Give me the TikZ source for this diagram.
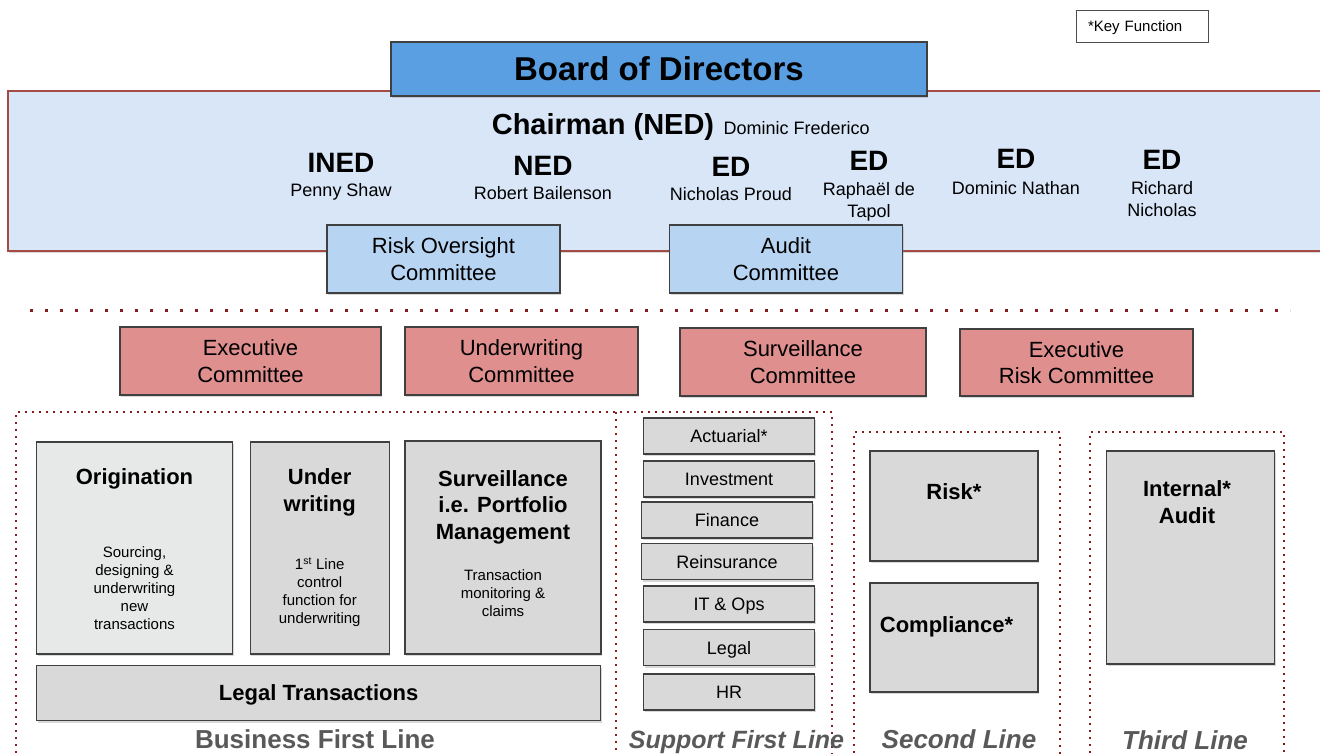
\documentclass[tikz,border=0pt]{standalone}
\usepackage{fontspec}
\setmainfont{Liberation Sans}
\usetikzlibrary{positioning,shadows}

\definecolor{boardblue}{RGB}{91,159,227}
\definecolor{roomblue}{RGB}{216,230,248}
\definecolor{cttblue}{RGB}{183,213,243}
\definecolor{cttred}{RGB}{224,143,143}
\definecolor{dotred}{RGB}{135,30,30}
\definecolor{edgered}{RGB}{165,75,70}
\definecolor{unitgray}{RGB}{217,217,217}
\definecolor{palegray}{RGB}{231,232,232}
\definecolor{labelgray}{RGB}{89,89,89}

\newcommand{\fsz}[2]{\fontsize{#1}{#2}\selectfont}

\tikzset{boxshadow/.style={drop shadow={shadow xshift=1pt,shadow yshift=-2pt,opacity=.3}},
         unit/.style={draw=black!75,line width=1.2pt,fill=unitgray,boxshadow,inner sep=0pt},
         committee/.style={unit,fill=cttred,minimum width=233pt,minimum height=68pt,align=center,font=\fsz{22}{26.5}},
         dept/.style={unit,minimum width=171pt,minimum height=36pt,text depth=0pt,font=\fsz{18}{22}},
         role/.style={inner sep=0pt,font=\bfseries\fsz{28}{34}},
         person/.style={inner sep=0pt,align=center,font=\fsz{18}{22}},
         head/.style={inner sep=0pt,align=center,font=\bfseries\fsz{22}{26.5}},
         note/.style={inner sep=0pt,align=center,font=\fsz{15}{18}},
         linelabel/.style={inner sep=0pt,text=labelgray,font=\bfseries\itshape\fsz{26}{30}},
         lineframe/.style={dotred,line width=2pt,dash pattern=on 2pt off 5pt}}

\begin{document}
\begin{tikzpicture}[x=1pt,y=-1pt]
   \useasboundingbox[fill=white] (0,0) rectangle (1320,753);
   \node[draw=black!70,line width=1pt,minimum width=132pt,minimum height=32pt,text width=108pt,text depth=0pt,align=left,font=\fsz{15}{18}] (key) at (1142,26) {*Key Function};
   \node[unit,draw=edgered,fill=roomblue,minimum width=1322pt,minimum height=160pt] (room) at (669,171) {};
   \node[unit,fill=boardblue,minimum width=536pt,minimum height=54pt,font=\bfseries\fsz{33}{40}] (board) at (659,69) {Board of Directors};
   \node[role,anchor=base,font=\bfseries\fsz{29}{34}] (chair) at (603,134) {Chairman (NED)};
   \node[person,anchor=base west] (chairname) at ([xshift=9pt]chair.base east) {Dominic Frederico};
   \node[role,anchor=base] (ined) at (341,172) {INED};
   \node[person,below=11pt of ined] (inedname) {Penny Shaw};
   \node[role,anchor=base] (ned) at (543,175) {NED};
   \node[person,below=11pt of ned] (nedname) {Robert Bailenson};
   \node[role,anchor=base] (edproud) at (731,176) {ED};
   \node[person,below=11pt of edproud] (proudname) {Nicholas Proud};
   \node[role,anchor=base] (edtapol) at (869,170) {ED};
   \node[person,below=12pt of edtapol] (tapolname) {Raphaël de\\Tapol};
   \node[role,anchor=base] (ednathan) at (1016,168) {ED};
   \node[person,below=13pt of ednathan] (nathanname) {Dominic Nathan};
   \node[role,anchor=base] (ednicholas) at (1162,169) {ED};
   \node[person,below=12pt of ednicholas] (nicholasname) {Richard\\Nicholas};
   \node[committee,fill=cttblue] (riskoversight) at (443.5,259) {Risk Oversight\\Committee};
   \node[committee,fill=cttblue] (audit) at (786,259) {Audit\\Committee};

   \draw[dotred,line width=3pt,dash pattern=on 3pt off 12pt] (30,310) -- (1290,310);
   \node[committee,minimum width=261pt] (exec) at (250.5,361) {Executive\\Committee};
   \node[committee] (uw) at (521.5,361) {Underwriting\\Committee};
   \node[committee,minimum width=246pt] (surv) at (803,362) {Surveillance\\Committee};
   \node[committee,minimum height=67pt] (execrisk) at (1076.5,362.5) {Executive\\Risk Committee};

   \draw[lineframe] (16,760) |- (832,412) -- (832,760);
   \draw[lineframe] (616,412) -- (616,760);
   \draw[lineframe] (854,760) |- (1060,432) -- (1060,760);
   \draw[lineframe] (1090,760) |- (1284,432) -- (1284,760);

   \node[unit,fill=palegray,minimum width=196pt,minimum height=212pt] (orig) at (134.5,548) {};
   \node[head,anchor=base] (origtitle) at (134.5,484) {Origination};
   \node[note] (origtext) at (134.5,588) {Sourcing,\\designing \&\\underwriting\\new\\transactions};
   \node[unit,minimum width=139pt,minimum height=212pt] (uwunit) at (319.7,548) {};
   \node[head] (uwtitle) at (319.7,492.6) {Under\\writing};
   \node[note] (uwtext) at (319.7,592.5) {1\textsuperscript{st} Line\\control\\function for\\underwriting};
   \node[unit,minimum width=196pt,minimum height=213pt] (survunit) at (503,547.5) {};
   \node[head] (survtitle) at (503,507) {Surveillance\\i.e. Portfolio\\Management};
   \node[note] (survtext) at (503,593) {Transaction\\monitoring \&\\claims};
   \node[unit,minimum width=564pt,minimum height=55pt,text depth=0pt,font=\bfseries\fsz{22}{27}] (legaltx) at (318.6,693) {Legal Transactions};
   \node[linelabel,font=\bfseries\fsz{26}{30},anchor=base] (bizline) at (315,748) {Business First Line};

   \node[dept] (actuarial) at (729,436) {Actuarial*};
   \node[dept] (investment) at (729,479) {Investment};
   \node[dept] (finance) at (727,520) {Finance};
   \node[dept] (reins) at (727,561.5) {Reinsurance};
   \node[dept] (itops) at (729,604) {IT \& Ops};
   \node[dept] (legal) at (729,647.5) {Legal};
   \node[dept] (hr) at (729,692) {HR};
   \node[linelabel,font=\bfseries\itshape\fsz{25}{30},anchor=base] (supportline) at (736.5,748) {Support First Line};

   \node[unit,minimum width=168pt,minimum height=110pt] (risk) at (954,506) {};
   \node[head,anchor=base] (risktitle) at (954,499) {Risk*};
   \node[unit,minimum width=168pt,minimum height=109pt] (compliance) at (954,637.5) {};
   \node[head,anchor=base] (compliancetitle) at (946.5,632) {Compliance*};
   \node[linelabel,anchor=base] (secondline) at (959,748) {Second Line};

   \node[unit,minimum width=168pt,minimum height=213pt] (intaudit) at (1190.5,557.5) {};
   \node[head] (intaudittitle) at (1187,502) {Internal*\\Audit};
   \node[linelabel,anchor=base] (thirdline) at (1185,749) {Third Line};
\end{tikzpicture}
\end{document}
